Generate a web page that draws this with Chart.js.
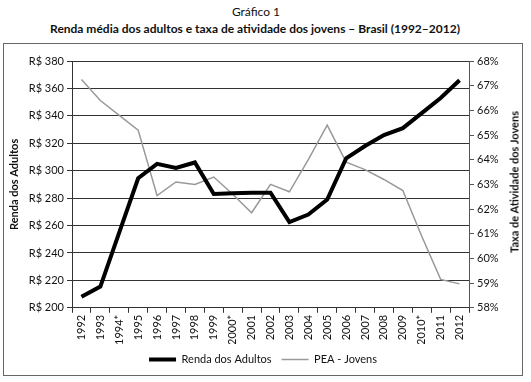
<!DOCTYPE html>
<html lang="pt">
<head>
<meta charset="UTF-8">
<script src="https://cdn.jsdelivr.net/npm/chart.js"></script>
<title>Gráfico 1</title>
<style>
  body { margin: 0; background: #fff; font-family: Lato, sans-serif; color: #111; }
  #t1 { position: absolute; left: 0; width: 512px; top: 4px; text-align: center; font-size: 12px; }
  #t2 { position: absolute; left: 0; width: 510px; top: 21px; text-align: center; font-size: 12px; font-weight: bold; }
  #box { position: absolute; left: 3px; top: 43px; width: 518px; height: 331px; border: 1px solid #666; }
  #rtitle { position: absolute; left: 514px; top: 182px; font-size: 11px; font-weight: bold; white-space: nowrap;
            transform: translate(-50%, -50%) rotate(-90deg); }
</style>
</head>
<body>
<div id="t1">Gráfico 1</div>
<div id="t2">Renda média dos adultos e taxa de atividade dos jovens – Brasil (1992–2012)</div>
<div id="box"><canvas id="chart" width="518" height="331"></canvas></div>
<div id="rtitle">Taxa de Atividade dos Jovens</div>

<script>
const years = ['1992','1993','1994*','1995','1996','1997','1998','1999','2000*','2001','2002',
               '2003','2004','2005','2006','2007','2008','2009','2010*','2011','2012'];
// renda media dos adultos (R$)
const renda = [208, 215.5, 255, 294.5, 305, 302, 306, 283, 283.5, 284, 284,
               262.5, 268, 279, 309, 318, 326, 331, 342, 353, 366];
// taxa de atividade dos jovens (%)
const pea = [67.25, 66.4, 65.8, 65.2, 62.55, 63.1, 63.0, 63.3, 62.6, 61.85, 63.0,
             62.7, 64.0, 65.4, 63.9, 63.6, 63.2, 62.75, 60.9, 59.15, 58.97];
const rendaTicks = [200, 220, 240, 260, 280, 300, 320, 340, 360, 380];

Chart.defaults.font.family = 'Lato, sans-serif';
Chart.defaults.font.size = 11;
Chart.defaults.color = '#111';

new Chart(document.getElementById('chart'), {
    type: 'line',
    data: {
        labels: years,
        datasets: [{
            label: 'Renda dos Adultos',
            data: renda,
            yAxisID: 'y',
            borderColor: '#000',
            backgroundColor: '#000',
            borderWidth: 4,
            pointRadius: 0,
            tension: 0
        }, {
            label: 'PEA - Jovens',
            data: pea,
            yAxisID: 'y1',
            borderColor: '#999',
            backgroundColor: '#999',
            borderWidth: 1.5,
            pointRadius: 0,
            tension: 0
        }]
    },
    options: {
        responsive: false,
        animation: false,
        layout: { padding: { top: 17 } },
        plugins: {
            legend: {
                position: 'bottom',
                labels: {
                    usePointStyle: true,
                    pointStyle: 'line',
                    pointStyleWidth: 27,
                    padding: 10,
                    color: '#111'
                }
            },
            tooltip: { enabled: false }
        },
        scales: {
            x: {
                offset: true,
                afterFit: s => { s.height -= 3; },
                grid: { offset: true, drawOnChartArea: false, tickLength: 5, color: '#333' },
                border: { color: '#333' },
                ticks: { minRotation: 90, maxRotation: 90, autoSkip: false, padding: 2 }
            },
            y: {
                position: 'left',
                min: 200,
                max: 380,
                afterBuildTicks: s => { s.ticks = rendaTicks.map(v => ({ value: v })); },
                afterFit: s => { s.width = 68; },
                ticks: { callback: v => 'R$ ' + v, padding: 3 },
                grid: { color: '#333', tickLength: 5 },
                border: { color: '#333' },
                title: { display: true, text: 'Renda dos Adultos', font: { weight: 'bold' }, padding: 4 }
            },
            y1: {
                position: 'right',
                min: 58,
                max: 68,
                afterFit: s => { s.width = 53; },
                ticks: { stepSize: 1, callback: v => v + '%', padding: 3 },
                grid: { drawOnChartArea: false, color: '#555', tickLength: 5 },
                border: { color: '#555' }
            }
        }
    }
});
</script>
</body>
</html>
